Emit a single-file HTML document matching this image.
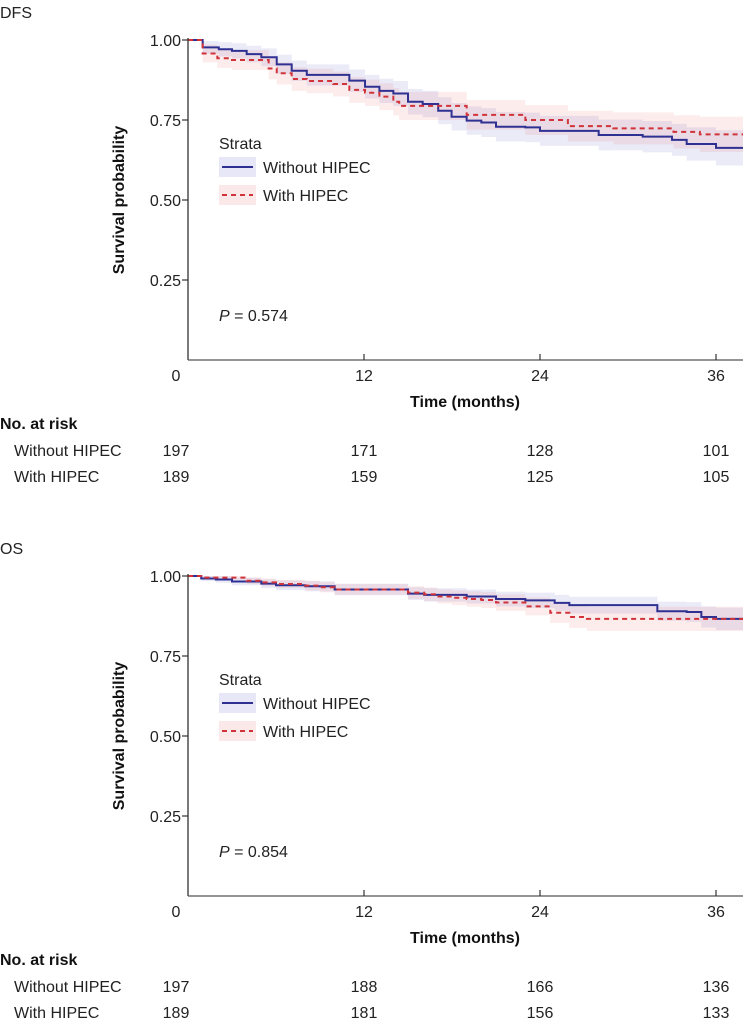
<!DOCTYPE html>
<html><head><meta charset="utf-8"><style>
html,body{margin:0;padding:0;background:#fff;}
svg{display:block;font-family:"Liberation Sans",Arial,sans-serif;}
</style></head><body>
<svg id="chart" width="743" height="1027" viewBox="0 0 743 1027" xmlns="http://www.w3.org/2000/svg"></svg>
<script>
// ---- data ----
const xTicks = [0, 12, 24, 36];
const yTicks = [0.25, 0.50, 0.75, 1.00];
const yTickLabels = ["0.25", "0.50", "0.75", "1.00"];
const groups = ["Without HIPEC", "With HIPEC"];

const dfsBlueT = [0,1.0,2.1,3.0,4.0,5.0,6.05,7.07,8.1,11.0,12.07,13.05,14.0,15.0,16.0,17.06,17.97,19.0,20.0,21.0,23.0,24.0,28.0,31.0,33.0,34.0,36.0];
const dfsBlueS = [1,0.977,0.971,0.966,0.956,0.946,0.924,0.904,0.891,0.873,0.854,0.841,0.833,0.807,0.80,0.779,0.760,0.748,0.742,0.729,0.727,0.716,0.703,0.698,0.688,0.675,0.663];
const dfsBlueHW = [0,0.02,0.022,0.024,0.026,0.028,0.03,0.032,0.033,0.035,0.037,0.038,0.039,0.04,0.041,0.042,0.043,0.044,0.045,0.046,0.046,0.047,0.048,0.049,0.05,0.052,0.055];
const dfsRedT = [0,1.0,2.0,3.0,5.5,6.05,7.07,8.1,9.9,11.0,12.07,13.05,14.0,14.4,19.0,23.0,25.9,29.0,33.1,34.9];
const dfsRedS = [1,0.958,0.943,0.9375,0.911,0.896,0.878,0.872,0.8625,0.844,0.835,0.823,0.807,0.794,0.766,0.75,0.731,0.724,0.713,0.705];
const dfsRedHW = [0,0.028,0.03,0.031,0.034,0.035,0.037,0.038,0.039,0.04,0.041,0.042,0.043,0.044,0.046,0.047,0.048,0.05,0.052,0.055];

const osBlueT = [0,0.9,1.9,3.0,5.0,6.0,8.0,10.0,15.0,16.1,19.0,21.0,23.0,25.0,26.0,32.0,34.0,35.0,36.0];
const osBlueS = [1,0.992,0.989,0.983,0.976,0.971,0.968,0.958,0.945,0.941,0.936,0.928,0.924,0.916,0.909,0.89,0.8875,0.872,0.866];
const osBlueHW = [0,0.008,0.01,0.012,0.014,0.015,0.016,0.018,0.02,0.021,0.022,0.023,0.024,0.025,0.026,0.03,0.031,0.033,0.035];
const osRedT = [0,0.9,4.0,5.0,6.0,8.0,9.0,10.0,15.0,16.1,17.0,18.0,19.0,20.0,21.0,23.0,24.7,26.0,27.2];
const osRedS = [1,0.995,0.985,0.98,0.975,0.97,0.965,0.958,0.948,0.943,0.936,0.932,0.928,0.925,0.917,0.905,0.885,0.872,0.866];
const osRedHW = [0,0.006,0.01,0.012,0.013,0.015,0.016,0.017,0.02,0.021,0.022,0.023,0.024,0.025,0.026,0.028,0.032,0.034,0.038];

const dfsRiskBlue = [197, 171, 128, 101];
const dfsRiskRed = [189, 159, 125, 105];
const osRiskBlue = [197, 188, 166, 136];
const osRiskRed = [189, 181, 156, 133];

// ---- rendering ----
const NS = "http://www.w3.org/2000/svg";
const svg = document.getElementById("chart");
const X0 = 188, PXM = 14.667, TMAX = 37.9;
const FS = 16;
function xs(t){ return X0 + t * PXM; }
function mk(tag, attrs, parent, text){
  const e = document.createElementNS(NS, tag);
  for (const k in attrs) e.setAttribute(k, attrs[k]);
  if (text !== undefined) e.textContent = text;
  (parent || svg).appendChild(e);
  return e;
}
function stepPath(T, S, ys){
  let d = "M" + xs(T[0]) + "," + ys(S[0]);
  for (let i = 1; i < T.length; i++){
    d += " H" + xs(T[i]) + " V" + ys(S[i]);
  }
  d += " H" + xs(TMAX);
  return d;
}
function bandPath(T, S, HW, ys){
  let up = [], lo = [];
  for (let i = 0; i < T.length; i++){
    const tEnd = i < T.length - 1 ? T[i+1] : TMAX;
    up.push([xs(T[i]), ys(Math.min(1, S[i] + HW[i]))], [xs(tEnd), ys(Math.min(1, S[i] + HW[i]))]);
    lo.push([xs(T[i]), ys(S[i] - HW[i])], [xs(tEnd), ys(S[i] - HW[i])]);
  }
  lo.reverse();
  return "M" + up.concat(lo).map(p => p[0] + "," + p[1]).join(" L") + " Z";
}

function panel(off, title, bT, bS, bHW, rT, rS, rHW, pval, riskB, riskR, name){
  const g = mk("g", {});
  
  
  const yTop = 40 + off, yBot = 360 + off;
  const ys = v => yBot - v * (yBot - yTop);

  const tt = mk("text", {x: 0, y: 18 + off, "font-size": FS, fill: "#222"}, g, title);
  
  

  const bb = mk("path", {d: bandPath(bT, bS, bHW, ys), fill: "rgba(70,70,190,0.11)"}, g);
  
  
  const rb = mk("path", {d: bandPath(rT, rS, rHW, ys), fill: "rgba(225,70,70,0.10)"}, g);
  
  
  const bl = mk("path", {d: stepPath(bT, bS, ys), fill: "none", stroke: "#2e3192", "stroke-width": 2}, g);
  
  
  const rl = mk("path", {d: stepPath(rT, rS, ys), fill: "none", stroke: "#d0343a", "stroke-width": 2, "stroke-dasharray": "5,4"}, g);
  
  

  // axes
  const ya = mk("line", {x1: X0, y1: yTop - 2, x2: X0, y2: yBot, stroke: "#333", "stroke-width": 1.3}, g);
  
  
  const xa = mk("line", {x1: X0, y1: yBot, x2: 743, y2: yBot, stroke: "#555", "stroke-width": 1.3}, g);
  
  
  yTicks.forEach((v, i) => {
    mk("line", {x1: X0 - 6, y1: ys(v), x2: X0, y2: ys(v), stroke: "#333", "stroke-width": 1.2}, g);
    const t = mk("text", {x: 181, y: ys(v) + 6, "font-size": FS, "text-anchor": "end", fill: "#222"}, g, yTickLabels[i]);
    
    
  });
  const tickLabX = t => t === 0 ? 176 : xs(t);
  xTicks.forEach(v => {
    if (v > 0) mk("line", {x1: xs(v), y1: yBot - 6, x2: xs(v), y2: yBot, stroke: "#333", "stroke-width": 1.2}, g);
    const t = mk("text", {x: tickLabX(v), y: yBot + 21, "font-size": FS, "text-anchor": "middle", fill: "#222"}, g, String(v));
    
    
  });
  const xt = mk("text", {x: 465, y: yBot + 47, "font-size": FS, "font-weight": "bold", "text-anchor": "middle", fill: "#111"}, g, "Time (months)");
  
  
  const yt = mk("text", {x: 0, y: 0, "font-size": FS, "font-weight": "bold", "text-anchor": "middle", fill: "#111",
    transform: "translate(124," + ((yTop + yBot) / 2) + ") rotate(-90)"}, g, "Survival probability");
  
  

  // legend
  const lg = mk("g", {}, g);
  
  
  mk("text", {x: 219, y: yTop + 109, "font-size": FS, fill: "#222"}, lg, "Strata");
  mk("rect", {x: 219, y: yTop + 117, width: 37, height: 20, fill: "rgba(70,70,190,0.13)"}, lg);
  mk("line", {x1: 222, y1: yTop + 127, x2: 253, y2: yTop + 127, stroke: "#2e3192", "stroke-width": 2}, lg);
  const l1 = mk("text", {x: 263, y: yTop + 133, "font-size": FS, fill: "#222"}, lg, groups[0]);
  
  
  mk("rect", {x: 219, y: yTop + 145, width: 37, height: 20, fill: "rgba(225,70,70,0.12)"}, lg);
  mk("line", {x1: 222, y1: yTop + 155, x2: 253, y2: yTop + 155, stroke: "#d0343a", "stroke-width": 2, "stroke-dasharray": "5,4"}, lg);
  const l2 = mk("text", {x: 263, y: yTop + 161, "font-size": FS, fill: "#222"}, lg, groups[1]);
  
  

  const pt = mk("text", {x: 219, y: yTop + 281, "font-size": FS, fill: "#222"}, g);
  
  
  mk("tspan", {"font-style": "italic"}, pt, "P");
  mk("tspan", {}, pt, " = " + pval);

  // risk table
  const rt = mk("g", {}, g);
  
  
  mk("text", {x: 0, y: yBot + 69, "font-size": FS, "font-weight": "bold", fill: "#111"}, rt, "No. at risk");
  mk("text", {x: 14, y: yBot + 96, "font-size": FS, fill: "#222"}, rt, groups[0]);
  mk("text", {x: 14, y: yBot + 122, "font-size": FS, fill: "#222"}, rt, groups[1]);
  xTicks.forEach((v, i) => {
    mk("text", {x: tickLabX(v), y: yBot + 96, "font-size": FS, "text-anchor": "middle", fill: "#222"}, rt, String(riskB[i]));
    mk("text", {x: tickLabX(v), y: yBot + 122, "font-size": FS, "text-anchor": "middle", fill: "#222"}, rt, String(riskR[i]));
  });
}

panel(0, "DFS", dfsBlueT, dfsBlueS, dfsBlueHW, dfsRedT, dfsRedS, dfsRedHW, "0.574", dfsRiskBlue, dfsRiskRed, "dfs");
panel(536, "OS", osBlueT, osBlueS, osBlueHW, osRedT, osRedS, osRedHW, "0.854", osRiskBlue, osRiskRed, "os");
</script>
</body></html>
